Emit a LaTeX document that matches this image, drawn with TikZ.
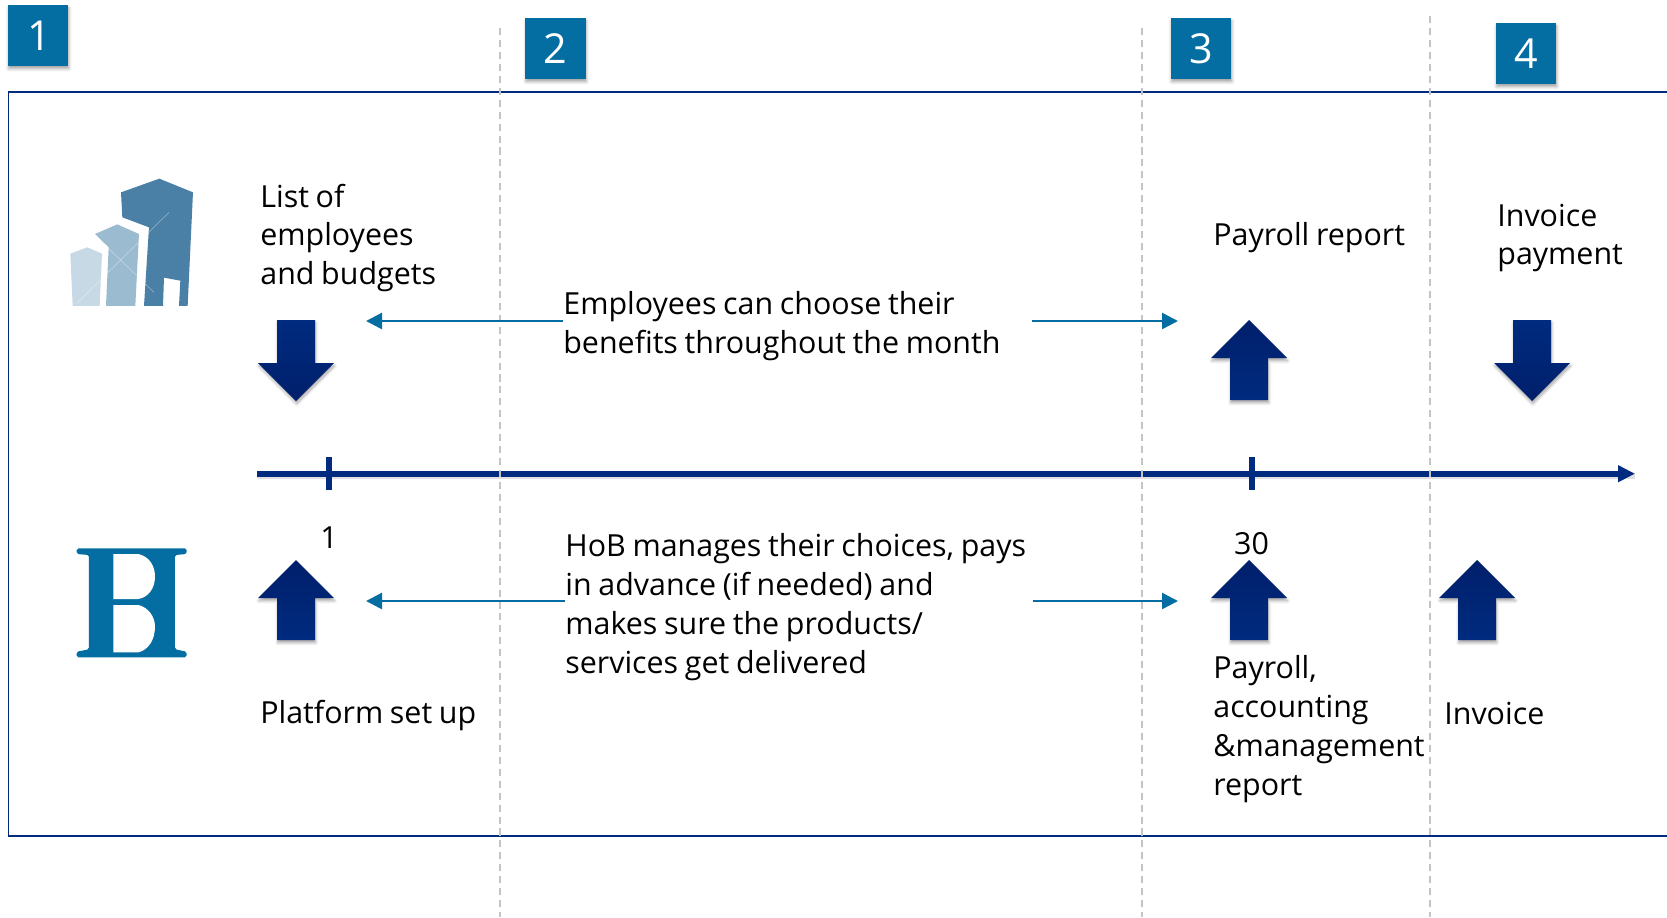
\documentclass[tikz,border=0pt]{standalone}
\usepackage{fontspec}
\setmainfont[WordSpace=0.85]{Open Sans}
\usetikzlibrary{arrows.meta}
\usetikzlibrary{shadows.blur}
\definecolor{hobblue}{HTML}{046EA2}
\definecolor{hobnavy}{HTML}{002B7F}
\definecolor{hobdark}{HTML}{001F6B}
\definecolor{bigtower}{HTML}{4A80A5}
\definecolor{midtower}{HTML}{9BBBD0}
\definecolor{smalltower}{HTML}{C7D9E5}
\tikzset{softshadow/.style = {blur shadow={shadow xshift=0.4pt, shadow yshift=-1.6pt, shadow blur radius=1.6pt, shadow opacity=35}}}
\tikzset{badge/.style = {fill=hobblue, text=white, minimum width=1.21cm, minimum height=1.22cm, inner sep=0, font=\fontsize{23.5}{23.5}\selectfont, softshadow}}
\tikzset{label/.style = {inner sep=0, align=left, font=\fontsize{17.3}{22.1}\selectfont}}
\tikzset{divider/.style = {draw=black!23, line width=1.4pt, dash pattern=on 4pt off 2.8pt}}
\tikzset{flow/.style = {draw=hobblue, line width=1.4pt, -{Triangle[length=0.32cm, width=0.32cm]}}}
\tikzset{uparrow/.pic = {\path [top color=hobdark, bottom color=hobnavy, softshadow] (0, 0) -- (38, 38) -- (19, 38) -- (19, 80) -- (-19, 80) -- (-19, 38) -- (-38, 38) -- cycle;}}
\tikzset{downarrow/.pic = {\path [top color=hobnavy, bottom color=hobdark, softshadow] (-19, 0) -- (19, 0) -- (19, 43) -- (38, 43) -- (0, 81) -- (-38, 43) -- (-19, 43) -- cycle;}}

\begin{document}
\begin{tikzpicture}[x=0.02cm, y=-0.02cm]
  \useasboundingbox (0, 0) rectangle (1667, 917);

  % frame, open on the right
  \draw [hobnavy, line width=1.1pt] (1667, 92) -- (8.5, 92) -- (8.5, 836) -- (1667, 836);

  % time line
  \coordinate (linestart) at (257, 473.7);
  \coordinate (lineend) at (1635, 473.7);
  \coordinate (dayone) at (329, 473.7);
  \coordinate (daythirty) at (1252, 473.7);
  \draw [black, opacity=0.12, line width=3.4pt] ([yshift=-0.05cm] linestart) -- ([yshift=-0.05cm] lineend);
  \draw [hobnavy, line width=3.2pt, -{Triangle[length=0.34cm, width=0.32cm]}] (linestart) -- (lineend);
  \draw [hobnavy, line width=3.2pt] ([yshift=0.33cm] dayone) -- ([yshift=-0.33cm] dayone);
  \draw [hobnavy, line width=3.2pt] ([yshift=0.33cm] daythirty) -- ([yshift=-0.33cm] daythirty);

  % phases
  \draw [divider] (500, 28) -- (500, 917);
  \draw [divider] (1142, 28) -- (1142, 917);
  \draw [divider] (1430, 16) -- (1430, 917);

  \node [badge] (one) at (38, 35.5) {\raisebox{-1.2pt}{\hspace{1.2pt}1}};
  \node [badge] (two) at (555.5, 48.5) {\raisebox{-0.6pt}{2}};
  \node [badge] (three) at (1201, 48.5) {\raisebox{-0.6pt}{3}};
  \node [badge] (four) at (1526, 53.5) {\raisebox{-0.6pt}{4}};

  % building logo
  \begin{scope}[shift={(0, 130)}, x=0.00667cm, y=-0.00667cm]
    \fill [smalltower] (211, 371) -- (262, 352) -- (306, 371) -- (299, 528) -- (218, 528) -- cycle;
    \fill [midtower] (285, 312) -- (352, 283) -- (417, 312) -- (406, 528) -- (318, 528) -- (326, 352) -- cycle;
    \fill [bigtower] (363, 187) -- (478, 146) -- (579, 187) -- (563, 528) -- (537, 528) -- (541, 452) -- (492, 443) -- (489, 528) -- (432, 528) -- (447, 292) -- (367, 262) -- cycle;
    \draw [white, opacity=0.35, line width=0.4pt] (230, 520) -- (507, 247);
    \draw [white, opacity=0.35, line width=0.4pt] (310, 340) -- (462, 487);
  \end{scope}

  % B logo
  \begin{scope}[shift={(40, 510)}, x=0.00667cm, y=-0.00667cm]
    \fill [hobblue, rounded corners=1pt] (110, 115) -- (440, 115) -- (440, 132) -- (405, 135) -- (405, 418) -- (440, 425) -- (440, 442) -- (110, 442) -- (110, 425) -- (147, 418) -- (147, 135) -- (110, 132) -- cycle;
    \fill [white] (220, 132) -- (295, 132) .. controls (330, 140) and (345, 170) .. (345, 200) .. controls (345, 235) and (325, 262) .. (295, 267) -- (220, 267) -- cycle;
    \fill [white] (220, 285) -- (295, 285) .. controls (325, 292) and (345, 320) .. (345, 350) .. controls (345, 390) and (325, 420) .. (295, 427) -- (220, 427) -- cycle;
  \end{scope}

  % deliveries
  \pic at (296, 320) {downarrow};
  \pic at (1249, 320) {uparrow};
  \pic at (1532, 320) {downarrow};
  \pic at (296, 560) {uparrow};
  \pic at (1249, 560) {uparrow};
  \pic at (1477, 560) {uparrow};

  \node [label, anchor=west] (budgets) at (260, 238) {List of\\employees\\and budgets};
  \node [label, anchor=west] (report) at (1213, 238) {Payroll report};
  \node [label, anchor=west] (payment) at (1497, 238) {Invoice\\payment};
  \node [label, anchor=west] (choose) at (563, 326) {Employees can choose their\\benefits throughout the month};
  \node [label, anchor=west] (manage) at (565, 607) {HoB manages their choices, pays\\in advance (if needed) and\\makes sure the products/\\services get delivered};
  \node [label] (first) at (329, 538) {1};
  \node [label] (last) at (1251.5, 544) {30};
  \node [label, anchor=west] (setup) at (260, 716) {Platform set up};
  \node [label, anchor=west] (accounts) at (1213, 729) {Payroll,\\accounting\\\&management\\report};
  \node [label, anchor=west] (invoice) at (1444, 713) {Invoice};

  % what happens during the month
  \coordinate (chooseleft) at (366, 321);
  \coordinate (chooseout) at (1032, 321);
  \coordinate (chooseright) at (1178, 321);
  \coordinate (manageleft) at (366, 601);
  \coordinate (manageout) at (1033, 601);
  \coordinate (manageright) at (1178, 601);
  \draw [flow] (choose.west |- chooseleft) -- (chooseleft);
  \draw [flow] (chooseout) -- (chooseright);
  \draw [flow] (manage.west |- manageleft) -- (manageleft);
  \draw [flow] (manageout) -- (manageright);
\end{tikzpicture}
\end{document}
